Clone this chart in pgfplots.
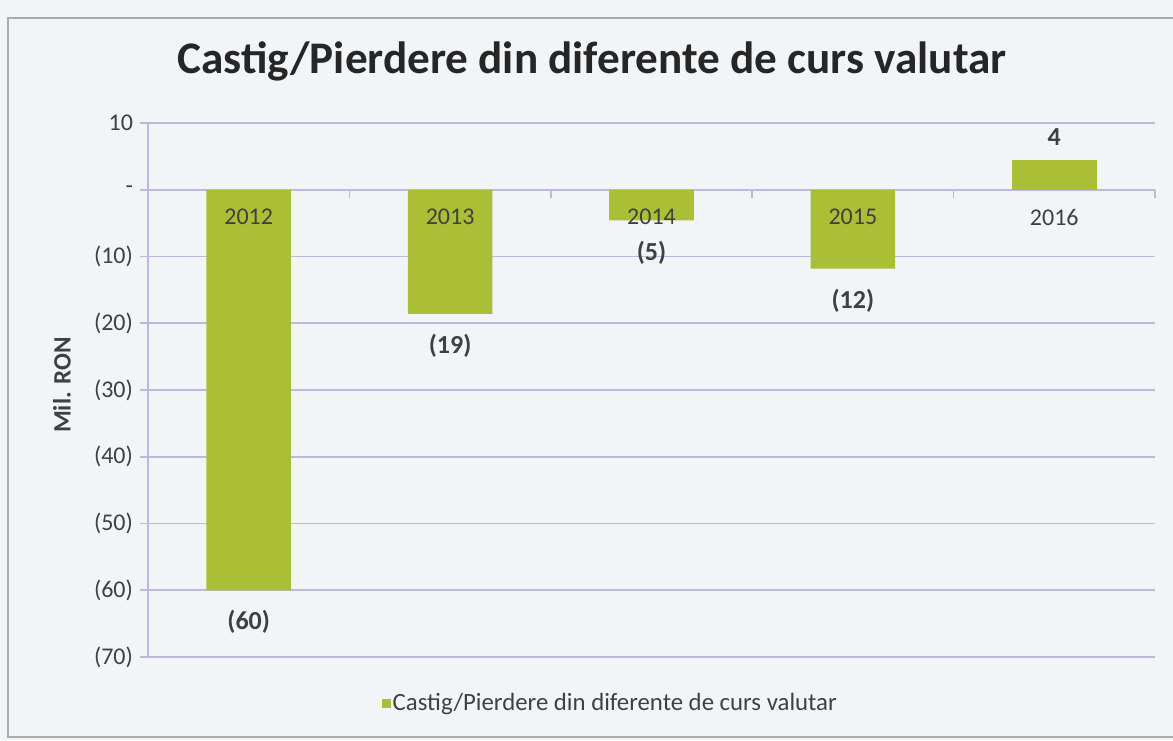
\documentclass[border=0pt]{standalone}
\usepackage{pgfplots}
\pgfplotsset{compat=1.18}
\usepackage{fontspec}
\setmainfont{Carlito}
\definecolor{barcol}{HTML}{ABBF36}
\definecolor{gridcol}{HTML}{BCB8DE}
\definecolor{txt}{HTML}{404040}
\definecolor{paper}{HTML}{F2F5F8}
\begin{document}
\begin{tikzpicture}[x=1pt,y=1pt]
\fill[paper] (-74,-41.5) rectangle (512.5,328.5);
\path[use as bounding box] (-74,-41.5) rectangle (512.5,328.5);
\draw[gray!65, line width=0.7pt] (-70,-40) rectangle (520,319.5);
\begin{axis}[
  at={(0,0)}, anchor=south west,
  scale only axis, width=503.5pt, height=267pt,
  xmin=-0.5, xmax=4.5, ymin=-70, ymax=10,
  axis y line*=left, axis x line*=middle,
  axis line style={gridcol, line width=0.8pt},
  ymajorgrids, grid style={gridcol, line width=0.8pt},
  xtick={0.5,1.5,2.5,3.5,4.5}, xticklabels={},
  ytick={-70,-60,...,10},
  yticklabels={(70),(60),(50),(40),(30),(20),(10),{-\hspace{6pt}},{10\hspace{2pt}}},
  tick align=outside, major tick length=4pt,
  tick style={gridcol, line width=0.8pt},
  y tick label style={font=\fontsize{12}{14}\selectfont, text=txt},
  title={Castig/Pierdere din diferente de curs valutar},
  title style={font=\bfseries\fontsize{22.6}{26}\selectfont, text=black!85, at={(0.441,1)}, anchor=center, yshift=25pt},
  ylabel={Mil. RON},
  every axis y label/.style={at={(axis description cs:-0.0854,0.509)}, rotate=90, anchor=center, font=\bfseries\fontsize{12.5}{14}\selectfont, text=txt},
  legend style={at={(0.459,0)}, anchor=center, yshift=-23pt, draw=none, fill=none, font=\fontsize{12.4}{14}\selectfont, text=txt,
    /tikz/every even column/.append style={column sep=0pt}},
  legend image code/.code={\fill[barcol] (2pt,-2.5pt) rectangle (6.5pt,2pt);},
  clip=false,
]
\addplot[ybar, bar width=0.42, fill=barcol, draw=none,
  nodes near coords, point meta=explicit symbolic,
  every node near coord/.append style={anchor=north, yshift=-2pt, font=\bfseries\fontsize{13}{15}\selectfont, text=txt, inner sep=8pt}]
  coordinates {(0,-60)[(60)] (1,-18.6)[(19)] (2,-4.6)[(5)] (3,-11.8)[(12)]};
\addlegendentry[inner sep=1pt]{Castig/Pierdere din diferente de curs valutar}
\addplot[ybar, bar width=0.42, fill=barcol, draw=none, forget plot,
  nodes near coords, point meta=explicit symbolic,
  every node near coord/.append style={anchor=south, font=\bfseries\fontsize{13}{15}\selectfont, text=txt, inner sep=7pt}]
  coordinates {(4,4.5)[4]};
\addplot[draw=none, mark=none, forget plot,
  nodes near coords, point meta=explicit symbolic,
  every node near coord/.append style={anchor=north, yshift=-6pt, font=\fontsize{12}{14}\selectfont, text=txt}]
  coordinates {(0,0)[2012] (1,0)[2013] (2,0)[2014] (3,0)[2015] (4,0)[2016]};
\end{axis}
\end{tikzpicture}
\end{document}
